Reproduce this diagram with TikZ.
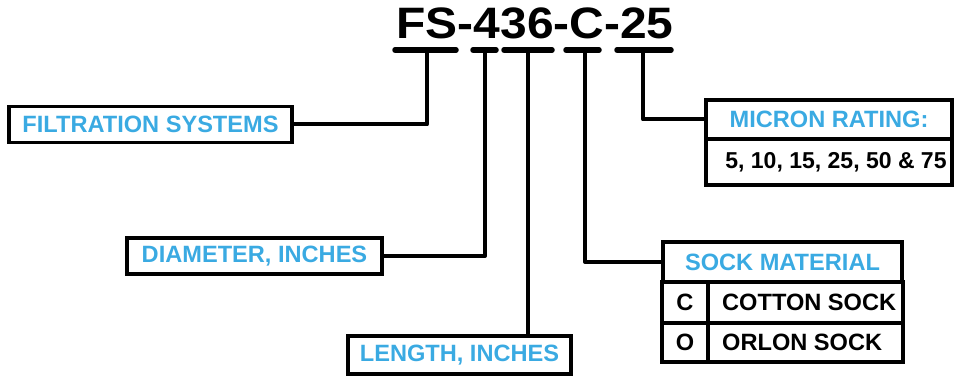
\documentclass[tikz,border=0pt]{standalone}
\usepackage{fontspec}
\setmainfont{Liberation Sans}
\definecolor{lblue}{RGB}{58,170,226}
\begin{document}
\begin{tikzpicture}[x=1pt,y=-1pt,
  lbl/.style={font=\bfseries\fontsize{23.6}{25}\selectfont},
  box/.style={draw, line width=3.5pt, inner sep=0pt, lbl, text=lblue},
  cell/.style={draw, line width=3.5pt, inner sep=0pt, lbl, text=black},
  txt/.style={inner sep=0pt, lbl, text=black},
  conn/.style={line width=4pt, line join=round},
  bar/.style={line width=5.5pt, line cap=round}]
\useasboundingbox (0,0) rectangle (956,377);
% title
\node[font=\bfseries\fontsize{44}{44}\selectfont, anchor=base, inner sep=0pt] (title) at (535,39) {\scalebox{1.09}[1]{FS-436-C-25}};
% bars
\coordinate (b1l) at (395,50); \coordinate (b1r) at (456,50); \coordinate (s1) at (427,50);
\coordinate (b2l) at (473,50); \coordinate (b2r) at (496,50); \coordinate (s2) at (485,50);
\coordinate (b3l) at (504,50); \coordinate (b3r) at (552,50); \coordinate (s3) at (528,50);
\coordinate (b4l) at (566,50); \coordinate (b4r) at (599,50); \coordinate (s4) at (585,50);
\coordinate (b5l) at (617,50); \coordinate (b5r) at (671,50); \coordinate (s5) at (643,50);
\draw[bar] (b1l) -- (b1r);
\draw[bar] (b2l) -- (b2r);
\draw[bar] (b3l) -- (b3r);
\draw[bar] (b4l) -- (b4r);
\draw[bar] (b5l) -- (b5r);
% boxes
\node[box, minimum width=283pt, minimum height=36pt] (filt) at (150.5,124.5) {FILTRATION SYSTEMS};
\node[box, minimum width=255pt, minimum height=36pt] (diam) at (254.5,256) {DIAMETER, INCHES};
\node[box, minimum width=223pt, minimum height=38pt] (len) at (459.5,355) {LENGTH, INCHES};
% micron
\node[box, minimum width=246pt, minimum height=39pt] (mhead) at (829,119.5) {MICRON RATING:};
\node[cell, minimum width=246pt, minimum height=46pt] (mval) at (829,162) {};
\node[txt, font=\bfseries\fontsize{23}{25}\selectfont] (mvalt) at (836,162) {5, 10, 15, 25, 50 \& 75};
% sock
\node[box, minimum width=239pt, minimum height=40pt] (shead) at (782.5,262) {SOCK MATERIAL};
\node[cell, minimum width=46pt, minimum height=41pt] (sc) at (685,302.5) {C};
\node[cell, minimum width=195pt, minimum height=41pt] (sct) at (805.5,302.5) {};
\node[txt, anchor=west] (scttext) at (722,302.5) {COTTON SOCK};
\node[cell, minimum width=46pt, minimum height=39pt] (so) at (685,342.5) {O};
\node[cell, minimum width=195pt, minimum height=39pt] (sot) at (805.5,342.5) {};
\node[txt, anchor=west] (sottext) at (722,342.5) {ORLON SOCK};
% connectors
\draw[conn] (filt.east) -| (s1);
\draw[conn] (diam.east) -| (s2);
\draw[conn] (len.north -| s3) -- (s3);
\draw[conn] (shead.west) -| (s4);
\draw[conn] (mhead.west) -| (s5);
\end{tikzpicture}
\end{document}
